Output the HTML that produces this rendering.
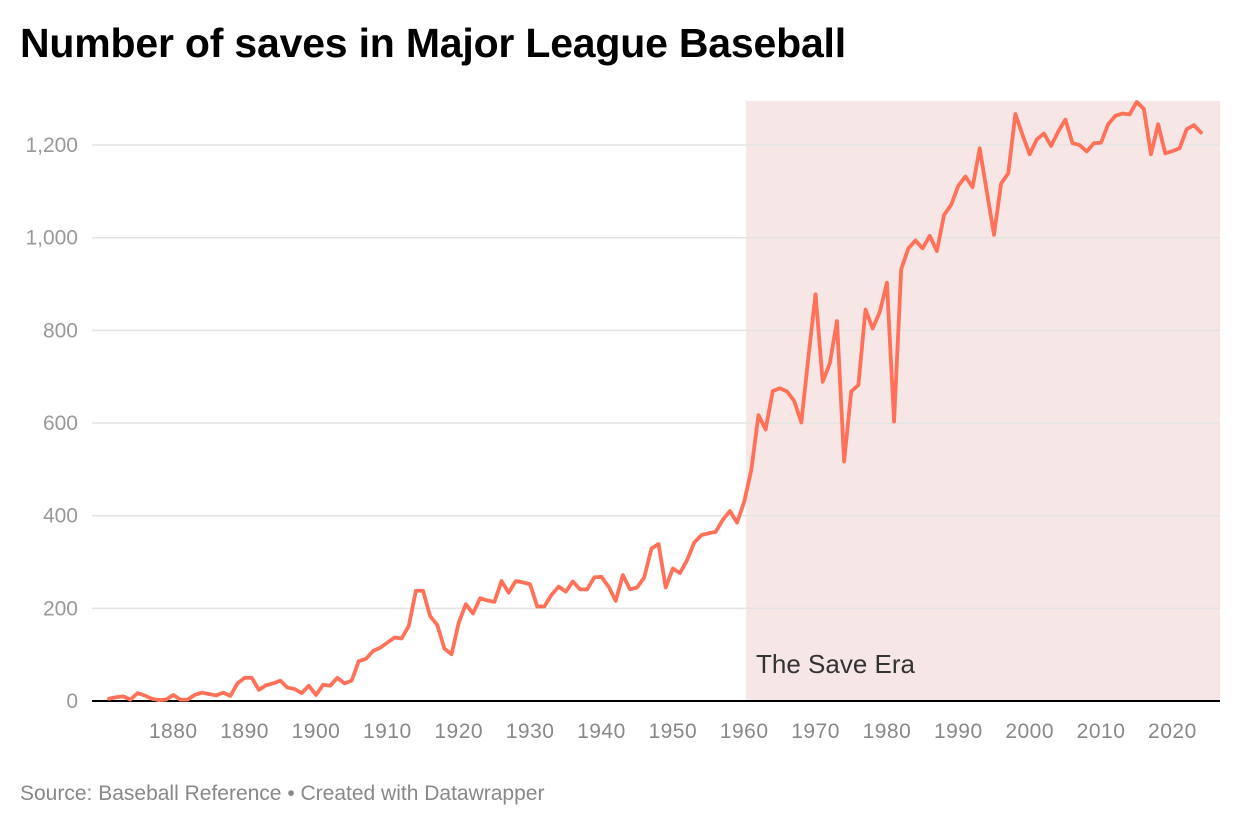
<!DOCTYPE html>
<html><head><meta charset="utf-8"><style>
body{margin:0;background:#fff;width:1240px;height:828px;overflow:hidden;font-family:"Liberation Sans",sans-serif}
h1{position:absolute;left:20px;top:20px;margin:0;font-size:41px;font-weight:bold;color:#000;letter-spacing:-0.2px}
.src{position:absolute;left:20px;top:782px;font-size:21px;color:#888}
svg{position:absolute;left:0;top:0}
</style></head><body>
<h1>Number of saves in Major League Baseball</h1>
<svg id="chart" width="1240" height="828"></svg>
<div class="src">Source: Baseball Reference • Created with Datawrapper</div>
<script>
const years=[];for(let y=1871;y<=2024;y++)years.push(y);
const saves=[5,8,10,3,17,12,5,2,3,13,3,3,13,18,15,12,18,11,38,50,50,24,34,38,44,29,26,17,33,13,35,33,50,38,44,86,91,108,115,126,137,135,162,238,238,183,164,113,101,169,209,189,222,217,214,259,234,259,256,252,204,204,229,247,236,258,241,241,267,268,247,216,272,241,245,267,329,339,245,286,276,304,342,358,362,365,391,410,385,430,499,617,586,669,675,668,648,601,743,878,689,729,820,517,668,682,845,804,840,903,603,932,977,994,977,1004,971,1049,1071,1112,1132,1109,1193,1099,1006,1117,1139,1267,1222,1180,1212,1225,1198,1229,1255,1204,1200,1186,1204,1205,1245,1263,1268,1266,1293,1278,1180,1245,1182,1187,1193,1234,1243,1227];
const yTicks=[0,200,400,600,800,1000,1200];
const yTickLabels=["0","200","400","600","800","1,000","1,200"];
const xTicks=[1880,1890,1900,1910,1920,1930,1940,1950,1960,1970,1980,1990,2000,2010,2020];
const eraStart=1960;
const NS="http://www.w3.org/2000/svg";
const svg=document.getElementById('chart');
const L=92,R=1220,T=101;
const x=v=>109+(v-1871)*7.137;
const y=v=>701-v*0.4633;
function mk(t,a){const e=document.createElementNS(NS,t);for(const k in a)e.setAttribute(k,a[k]);svg.appendChild(e);return e;}
let sh=mk('rect',{x:x(eraStart)+2,y:T,width:R-x(eraStart)-2,height:y(0)-T,fill:'#f7e6e6'});


yTicks.forEach((t,i)=>{
 if(t>0){const g=mk('line',{x1:L,x2:R,y1:y(t),y2:y(t),stroke:'#e3e3e3','stroke-width':1.5});
 
 }
 const tx=mk('text',{x:78,y:y(t)+7,'text-anchor':'end','font-size':21,fill:'#999','font-family':'Liberation Sans, sans-serif'});
 tx.textContent=yTickLabels[i];
 
 
});
xTicks.forEach(t=>{
 const tx=mk('text',{x:x(t),y:738,'text-anchor':'middle','font-size':21,fill:'#888','font-family':'Liberation Sans, sans-serif','letter-spacing':'0.5'});
 tx.textContent=t;
 
 
});
const lab=mk('text',{x:756,y:673,'font-size':26,fill:'#333','font-family':'Liberation Sans, sans-serif'});
lab.textContent='The Save Era';


const ax=mk('line',{x1:L,x2:R,y1:y(0),y2:y(0),stroke:'#000','stroke-width':2});


const p=mk('polyline',{points:years.map((yr,i)=>x(yr)+','+y(saves[i])).join(' '),fill:'none',stroke:'#ff7158','stroke-width':3.8,'stroke-linejoin':'round','stroke-linecap':'round'});


</script>
</body></html>
